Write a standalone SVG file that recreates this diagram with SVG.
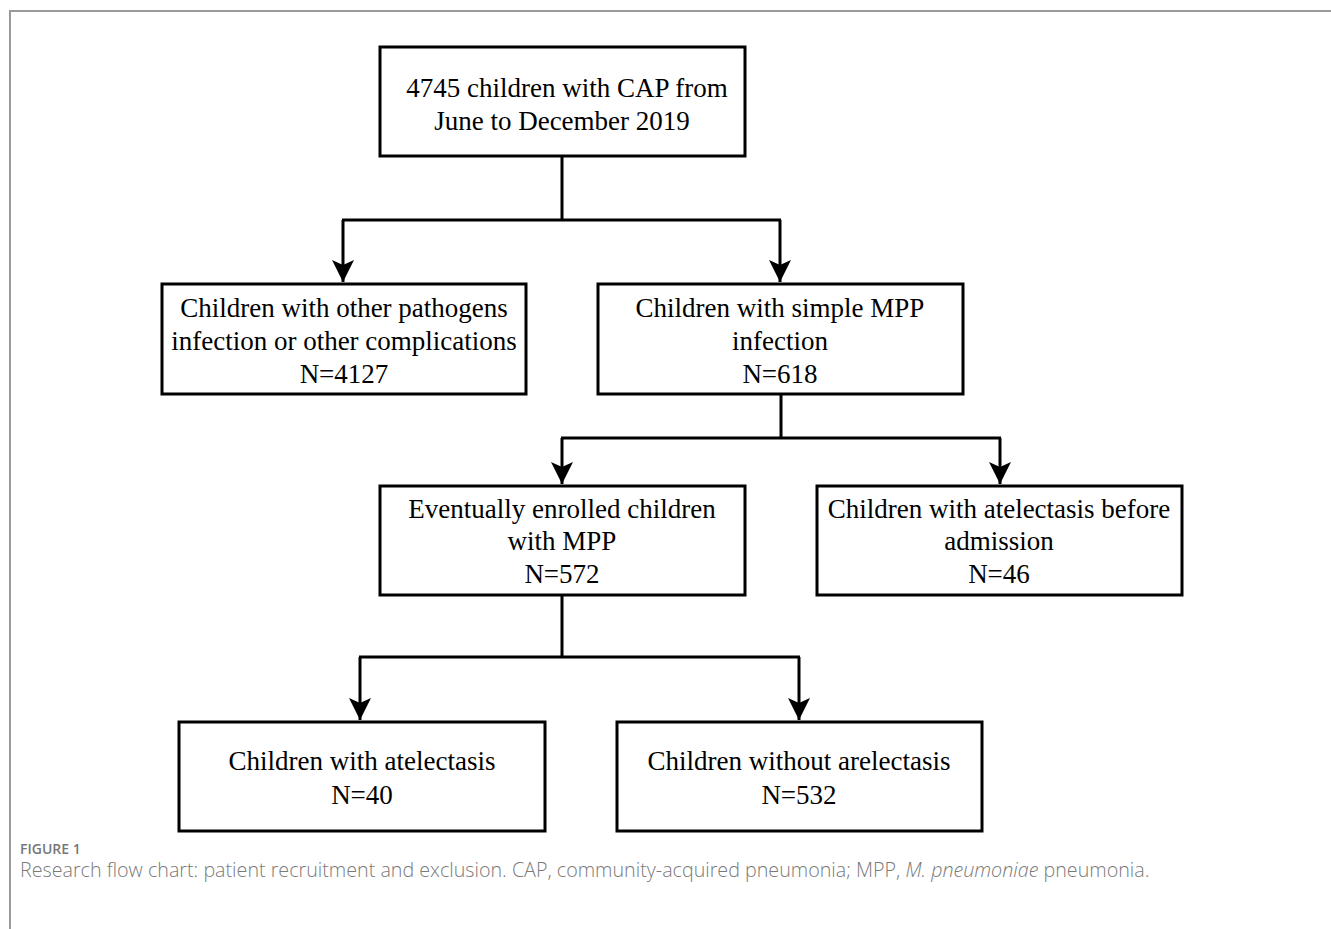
<svg xmlns="http://www.w3.org/2000/svg" width="1331" height="929" viewBox="0 0 1331 929">
<style>
.box{fill:#fff;stroke:#000;stroke-width:3}
.lbl{font-family:"Liberation Serif","Times New Roman",serif;font-size:27px;fill:#000;text-anchor:middle}
.con{fill:none;stroke:#000;stroke-width:3}
.frame{fill:none;stroke:#9a9a9a;stroke-width:2}
.fig{font-family:"Open Sans","Noto Sans",sans-serif;font-size:14px;font-weight:600;fill:#777}
.cap{font-family:"Open Sans","Noto Sans",sans-serif;font-size:19.7px;font-weight:300;fill:#7a7a7a}
</style>
<defs>
<marker id="arr" markerUnits="userSpaceOnUse" markerWidth="24" markerHeight="24" viewBox="-12 -23 24 24" refX="0" refY="0" orient="auto-start-reverse" overflow="visible">
<path d="M0,0 L-11,-22 L0,-17 L11,-22 Z" fill="#000" transform="rotate(-90)"/>
</marker>
</defs>
<rect width="1331" height="929" fill="#fff"/>
<path class="frame" d="M10,929 V11 H1331"/>
<g id="connectors">
<path class="con" d="M562,156 V220 M342,220 H781"/>
<path class="con" d="M343,220 V282" marker-end="url(#arr)"/>
<path class="con" d="M780,220 V282" marker-end="url(#arr)"/>
<path class="con" d="M781,394 V438 M561,438 H1001"/>
<path class="con" d="M562,438 V484" marker-end="url(#arr)"/>
<path class="con" d="M1000,438 V484" marker-end="url(#arr)"/>
<path class="con" d="M562,595 V657 M359,657 H800"/>
<path class="con" d="M360,657 V720" marker-end="url(#arr)"/>
<path class="con" d="M799,657 V720" marker-end="url(#arr)"/>
</g>
<g id="n_top">
<rect class="box" x="380" y="47" width="365" height="109"/>
<text class="lbl" x="567" y="97">4745 children with CAP from</text>
<text class="lbl" x="562" y="130">June to December 2019</text>
</g>
<g id="n_other">
<rect class="box" x="162" y="284" width="364" height="110"/>
<text class="lbl" x="344" y="317">Children with other pathogens</text>
<text class="lbl" x="344" y="350">infection or other complications</text>
<text class="lbl" x="344" y="383">N=4127</text>
</g>
<g id="n_simple">
<rect class="box" x="598" y="284" width="365" height="110"/>
<text class="lbl" x="780" y="317">Children with simple MPP</text>
<text class="lbl" x="780" y="350">infection</text>
<text class="lbl" x="780" y="383">N=618</text>
</g>
<g id="n_enrolled">
<rect class="box" x="380" y="486" width="365" height="109"/>
<text class="lbl" x="562" y="518">Eventually enrolled children</text>
<text class="lbl" x="562" y="550">with MPP</text>
<text class="lbl" x="562" y="583">N=572</text>
</g>
<g id="n_before">
<rect class="box" x="817" y="486" width="365" height="109"/>
<text class="lbl" x="999" y="518">Children with atelectasis before</text>
<text class="lbl" x="999" y="550">admission</text>
<text class="lbl" x="999" y="583">N=46</text>
</g>
<g id="n_with">
<rect class="box" x="179" y="722" width="366" height="109"/>
<text class="lbl" x="362" y="770">Children with atelectasis</text>
<text class="lbl" x="362" y="804">N=40</text>
</g>
<g id="n_without">
<rect class="box" x="617" y="722" width="365" height="109"/>
<text class="lbl" x="799" y="770">Children without arelectasis</text>
<text class="lbl" x="799" y="804">N=532</text>
</g>
<g id="caption">
<text class="fig" x="20" y="854">FIGURE 1</text>
<text class="cap" x="20" y="877">Research flow chart: patient recruitment and exclusion. CAP, community-acquired pneumonia; MPP, <tspan font-style="italic">M. pneumoniae</tspan> pneumonia.</text>
</g>
</svg>
